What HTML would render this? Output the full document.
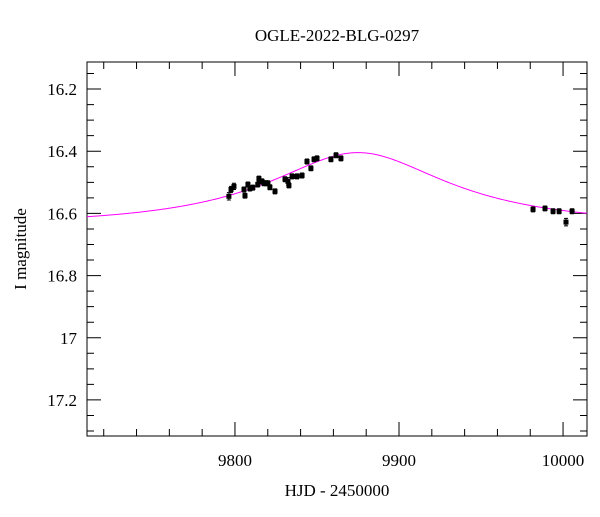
<!DOCTYPE html>
<html><head><meta charset="utf-8"><style>
body{margin:0;background:#fff}
svg text{font-family:"Liberation Serif",serif;font-size:17px;fill:#000}
</style></head><body>
<svg id="c" width="600" height="512"></svg>
<script>
const hjd=[9796.3,9797.6,9799.4,9805.5,9806.1,9807.9,9809.1,9810.9,9813.9,9814.6,9816.5,9817.7,9818.9,9821.3,9824.4,9820.1,9830.5,9832.3,9832.9,9834.8,9837.8,9840.9,9843.9,9846.3,9848.2,9850.0,9858.5,9861.6,9864.6,9981.7,9989.0,9993.9,9997.6,10001.8,10005.5];
const mag=[16.545,16.523,16.513,16.523,16.543,16.507,16.520,16.517,16.507,16.488,16.497,16.503,16.503,16.516,16.529,16.503,16.490,16.497,16.510,16.481,16.481,16.478,16.433,16.455,16.426,16.423,16.426,16.413,16.423,16.587,16.584,16.593,16.593,16.628,16.593];
const err=[0.012,0.01,0.01,0.008,0.008,0.008,0.008,0.008,0.008,0.008,0.008,0.008,0.008,0.008,0.008,0.008,0.008,0.012,0.008,0.008,0.008,0.008,0.008,0.008,0.008,0.008,0.008,0.008,0.008,0.008,0.008,0.008,0.008,0.012,0.008];
const xTicks=[9800,9900,10000];
const yTicks=[16.2,16.4,16.6,16.8,17,17.2];
const model={t0:9875,tE:109,u0:0.5,fs:0.2,base:16.635};
const L=87,R=587,T=62,B=436;
const xmin=9709.8,xmax=10014.6,ymin=16.113,ymax=17.316;
const X=v=>L+(v-xmin)/(xmax-xmin)*(R-L);
const Y=v=>T+(v-ymin)/(ymax-ymin)*(B-T);
const s=document.getElementById('c');const NS='http://www.w3.org/2000/svg';
function el(t,a,p){const e=document.createElementNS(NS,t);for(const k in a)e.setAttribute(k,a[k]);(p||s).appendChild(e);return e;}
let e=el('rect',{x:L,y:T,width:R-L,height:B-T,fill:'none',stroke:'#000','stroke-width':1});


for(let v=9720;v<=10014;v+=20){const major=v%100===0;const len=major?14:7;const x=X(v);
 e=el('path',{d:`M${x},${B}v-${len}M${x},${T}v${len}`,stroke:'#000','stroke-width':1});
 
 }
xTicks.forEach(v=>{e=el('text',{x:X(v),y:466,'text-anchor':'middle'});e.textContent=v;
 
 });
for(let i=3;i<=26;i++){const v=16+i*0.05;const major=Math.abs(v*10-Math.round(v*10))<1e-6&&Math.round(v*10)%2===0;const len=major?14:7;const y=Y(v);
 e=el('path',{d:`M${L},${y}h${len}M${R},${y}h-${len}`,stroke:'#000','stroke-width':1});
 
 }
yTicks.forEach(v=>{e=el('text',{x:77,y:Y(v)+6,'text-anchor':'end'});e.textContent=v;
 
 });
e=el('text',{x:337,y:41,'text-anchor':'middle'});e.textContent='OGLE-2022-BLG-0297';


e=el('text',{x:337,y:496,'text-anchor':'middle'});e.textContent='HJD - 2450000';


e=el('text',{x:26,y:249,'text-anchor':'middle',transform:'rotate(-90 26 249)'});e.textContent='I magnitude';


function A(u){return (u*u+2)/(u*Math.sqrt(u*u+4));}
let d='';for(let x=L;x<=R;x+=1){const t=xmin+(x-L)/(R-L)*(xmax-xmin);const tau=(t-model.t0)/model.tE;const u=Math.sqrt(model.u0*model.u0+tau*tau);
 const m=model.base-2.5*Math.log10(1+model.fs*(A(u)-1));d+=(d?'L':'M')+x+','+Y(m).toFixed(2);}
e=el('path',{d:d,fill:'none',stroke:'#ff00ff','stroke-width':1});


hjd.forEach((t,i)=>{const x=X(t),y=Y(mag[i]);
 const g=el('g',{});
 
 
 el('path',{d:`M${x},${Y(mag[i]-err[i])}V${Y(mag[i]+err[i])}M${x-2},${Y(mag[i]-err[i])}h4M${x-2},${Y(mag[i]+err[i])}h4`,stroke:'#000'},g);
 el('rect',{x:x-2.5,y:y-2.5,width:5,height:5,fill:'#000'},g);});
</script></body></html>
